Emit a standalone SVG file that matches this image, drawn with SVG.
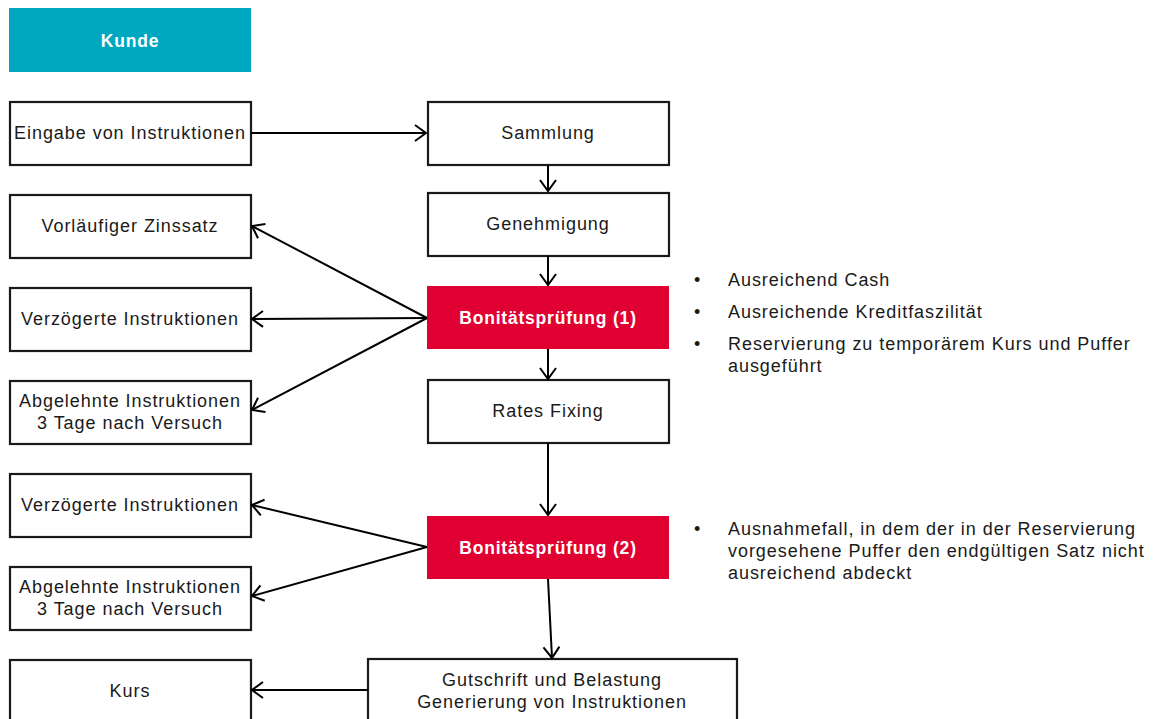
<svg xmlns="http://www.w3.org/2000/svg" width="1155" height="719" viewBox="0 0 1155 719">
<defs>
<style>
.box{fill:#fff;stroke:#1a1a1a;stroke-width:2.2}
.red{fill:#E10032}
.teal{fill:#00A7C0}
.t{font-family:"Liberation Sans",Arial,sans-serif;font-size:18px;letter-spacing:0.95px;fill:#1a1a1a;text-anchor:middle}
.b{font-family:"Liberation Sans",Arial,sans-serif;font-size:17.5px;letter-spacing:0.8px;font-weight:bold;fill:#fff;text-anchor:middle}
.bl{font-family:"Liberation Sans",Arial,sans-serif;font-size:18px;letter-spacing:0.95px;fill:#1a1a1a}
.c{fill:none;stroke:#000;stroke-width:2;marker-end:url(#ah)}
</style>
<marker id="ah" markerUnits="userSpaceOnUse" markerWidth="20" markerHeight="20" viewBox="-12 -10 14 20" refX="0" refY="0" orient="auto">
<path d="M-11,-8 L0,0 L-11,8" fill="none" stroke="#000" stroke-width="2"/>
</marker>
</defs>
<rect width="1155" height="719" fill="#fff"/>
<g id="kunde"><rect class="teal" x="9" y="8" width="242" height="64"/><text class="b" x="130" y="47">Kunde</text></g>
<g id="eingabe"><rect class="box" x="10" y="102" width="241" height="63"/><text class="t" x="130" y="139">Eingabe von Instruktionen</text></g>
<g id="sammlung"><rect class="box" x="428" y="102" width="241" height="63"/><text class="t" x="548" y="139">Sammlung</text></g>
<g id="genehmigung"><rect class="box" x="428" y="193" width="241" height="63"/><text class="t" x="548" y="230">Genehmigung</text></g>
<g id="bonitaet1"><rect class="red" x="427" y="286" width="242" height="63"/><text class="b" x="548" y="324">Bonitätsprüfung (1)</text></g>
<g id="rates"><rect class="box" x="428" y="380" width="241" height="63"/><text class="t" x="548" y="417">Rates Fixing</text></g>
<g id="bonitaet2"><rect class="red" x="427" y="516" width="242" height="63"/><text class="b" x="548" y="554">Bonitätsprüfung (2)</text></g>
<g id="gutschrift"><rect class="box" x="368" y="659" width="369" height="64"/><text class="t" x="552" y="686">Gutschrift und Belastung</text><text class="t" x="552" y="708">Generierung von Instruktionen</text></g>
<g id="vorlaeufig"><rect class="box" x="10" y="195" width="241" height="63"/><text class="t" x="130" y="232">Vorläufiger Zinssatz</text></g>
<g id="verzoegert1"><rect class="box" x="10" y="288" width="241" height="63"/><text class="t" x="130" y="325">Verzögerte Instruktionen</text></g>
<g id="abgelehnt1"><rect class="box" x="10" y="381" width="241" height="63"/><text class="t" x="130" y="407">Abgelehnte Instruktionen</text><text class="t" x="130" y="429">3 Tage nach Versuch</text></g>
<g id="verzoegert2"><rect class="box" x="10" y="474" width="241" height="63"/><text class="t" x="130" y="511">Verzögerte Instruktionen</text></g>
<g id="abgelehnt2"><rect class="box" x="10" y="567" width="241" height="63"/><text class="t" x="130" y="593">Abgelehnte Instruktionen</text><text class="t" x="130" y="615">3 Tage nach Versuch</text></g>
<g id="kurs"><rect class="box" x="10" y="660" width="241" height="63"/><text class="t" x="130" y="697">Kurs</text></g>
<g id="notes1">
<text class="bl" x="694" y="286">•</text><text class="bl" x="728" y="286">Ausreichend Cash</text>
<text class="bl" x="694" y="318">•</text><text class="bl" x="728" y="318">Ausreichende Kreditfaszilität</text>
<text class="bl" x="694" y="350">•</text><text class="bl" x="728" y="350">Reservierung zu temporärem Kurs und Puffer</text>
<text class="bl" x="728" y="372">ausgeführt</text>
</g>
<g id="notes2">
<text class="bl" x="694" y="535">•</text><text class="bl" x="728" y="535">Ausnahmefall, in dem der in der Reservierung</text>
<text class="bl" x="728" y="557">vorgesehene Puffer den endgültigen Satz nicht</text>
<text class="bl" x="728" y="579">ausreichend abdeckt</text>
</g>
<g id="connectors">
<path class="c" d="M251,133 L426,133"/>
<path class="c" d="M548,165 L548,191"/>
<path class="c" d="M548,256 L548,285"/>
<path class="c" d="M427,318 L252,226"/>
<path class="c" d="M427,318 L252,319"/>
<path class="c" d="M427,318 L252,410"/>
<path class="c" d="M548,349 L548,379"/>
<path class="c" d="M548,443 L548,515"/>
<path class="c" d="M427,547 L252,505"/>
<path class="c" d="M427,547 L252,596"/>
<path class="c" d="M548,579 L552,658"/>
<path class="c" d="M368,690 L252,690"/>
</g>
</svg>
